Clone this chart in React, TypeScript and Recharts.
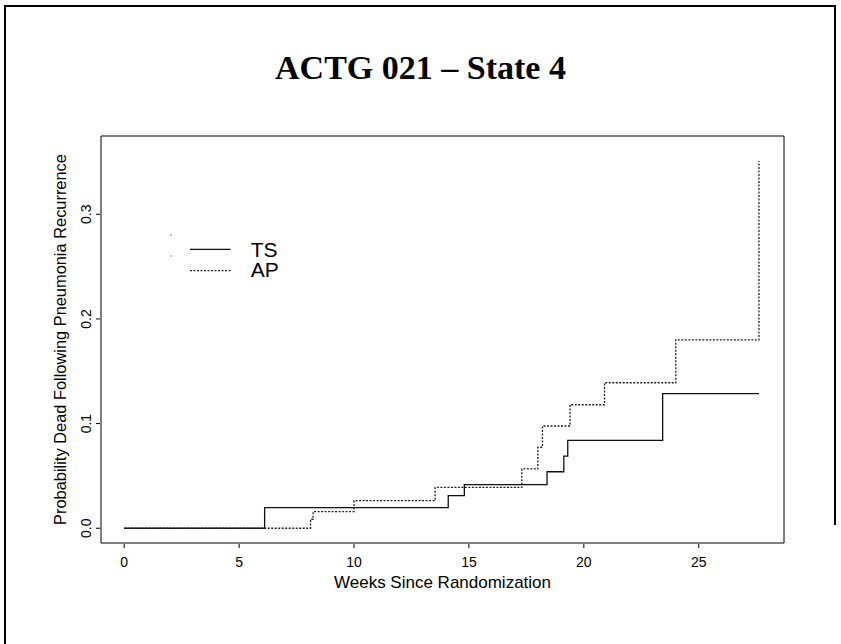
import React from 'react';
import { LineChart, Line, XAxis, YAxis, Legend } from 'recharts';

// ---- data ----
const tsWeeks = [0, 6.11, 14.1, 14.8, 18.4, 19.13, 19.3, 23.43, 27.62];
const tsProb = [0, 0.0197, 0.0312, 0.0417, 0.054, 0.069, 0.084, 0.1286, 0.1286];
const apWeeks = [0, 8.11, 8.22, 10.0, 13.53, 17.3, 18.0, 18.2, 19.4, 20.9, 24.0, 27.62];
const apProb = [0, 0.0086, 0.0159, 0.0264, 0.039, 0.0567, 0.0774, 0.0977, 0.118, 0.139, 0.18, 0.351];
const xTicks = [0, 5, 10, 15, 20, 25];
const yTicks = [0, 0.1, 0.2, 0.3];
const yTickLabels = ['0.0', '0.1', '0.2', '0.3'];
const seriesNames = ['TS', 'AP'];
const title = 'ACTG 021 – State 4';
const xTitle = 'Weeks Since Randomization';
const yTitle = 'Probability Dead Following Pneumonia Recurrence';

// ---- layout / style ----
const xDomain: [number, number] = [-1.01, 28.71];
const yDomain: [number, number] = [-0.0141, 0.3748];
const SANS = '"Liberation Sans", Arial, Helvetica, sans-serif';
const SERIF = '"Liberation Serif", "Times New Roman", Times, serif';
const lineStyles: Record<string, { dash?: string; width: number; color: string }> = {
  TS: { width: 1.3, color: '#111' },
  AP: { dash: '2 1.5', width: 1.3, color: '#222' },
};

const tsData = tsWeeks.map((t, i) => ({ t, v: tsProb[i] }));
const apData = apWeeks.map((t, i) => ({ t, v: apProb[i] }));

const XTick = (props: any) => {
  const { x, y, payload } = props;
  return (
    <g>
      <line x1={x} x2={x} y1={y + 1} y2={y + 5} stroke="#000" strokeWidth={1} />
      <text x={x} y={y + 24} textAnchor="middle" fontSize={14} fontFamily={SANS} fill="#000">
        {payload.value}
      </text>
    </g>
  );
};

const YTick = (props: any) => {
  const { x, y, payload } = props;
  const idx = yTicks.indexOf(payload.value);
  const label = idx >= 0 ? yTickLabels[idx] : String(payload.value);
  return (
    <g>
      <line x1={x - 5} x2={x - 1} y1={y} y2={y} stroke="#000" strokeWidth={1} />
      <text
        transform={`translate(${x - 10.5},${y}) rotate(-90)`}
        textAnchor="middle"
        fontSize={14}
        fontFamily={SANS}
        fill="#000"
      >
        {label}
      </text>
    </g>
  );
};

const XTitle = (p: any) => {
  const vb = p.viewBox || {};
  return (
    <text x={vb.x + vb.width / 2} y={vb.y + 45} textAnchor="middle" fontSize={17} fontFamily={SANS} fill="#000">
      {xTitle}
    </text>
  );
};

const YTitle = (p: any) => {
  const vb = p.viewBox || {};
  const bx = vb.x + vb.width - 35;
  const cy = vb.y + vb.height / 2;
  return (
    <text
      transform={`translate(${bx},${cy}) rotate(-90)`}
      textAnchor="middle"
      fontSize={16.4}
      fontFamily={SANS}
      fill="#000"
    >
      {yTitle}
    </text>
  );
};

const LegendContent = (props: any) => {
  const raw = (props.payload || []) as any[];
  const items = seriesNames
    .map((n) => raw.find((it: any) => String(it.value) === n))
    .filter(Boolean) as any[];
  return (
    <svg width={140} height={60} style={{ display: 'block', overflow: 'visible' }}>
      {items.map((it: any, i: number) => {
        const name = String(it.value);
        const st = lineStyles[name] || { width: 1, color: '#000' };
        return (
          <g key={name}>
            <circle cx={6} cy={7 + i * 21} r={0.8} fill="#666" />
            <line
              x1={25}
              x2={65.5}
              y1={21.3 + i * 21.4}
              y2={21.3 + i * 21.4}
              stroke={st.color}
              strokeWidth={st.width}
              strokeDasharray={st.dash}
            />
            <text x={85.7} y={28.7 + i * 20.3} fontSize={21} fontFamily={SANS} fill="#000">
              {name}
            </text>
          </g>
        );
      })}
    </svg>
  );
};

export default function App() {
  return (
    <div
      style={{
        position: 'absolute',
        left: 0,
        top: 0,
        width: 841,
        height: 644,
        overflow: 'hidden',
        background: '#fff',
      }}
    >
      {/* page frame */}
      <div
        style={{
          position: 'absolute',
          left: 4,
          top: 5,
          width: 830,
          height: 700,
          borderTop: '2px solid #000',
          borderLeft: '2px solid #000',
          boxSizing: 'border-box',
        }}
      />
      <div
        style={{
          position: 'absolute',
          left: 834,
          top: 5,
          width: 2,
          height: 520,
          background: '#000',
        }}
      />
      <div
        style={{
          position: 'absolute',
          left: 0,
          top: 51.4,
          width: 841,
          textAlign: 'center',
          fontFamily: SERIF,
          fontWeight: 'bold',
          fontSize: 34,
          lineHeight: '34px',
          color: '#000',
          whiteSpace: 'nowrap',
        }}
      >
        {title}
      </div>
      <div style={{ position: 'absolute', left: 0, top: 0 }}>
        <LineChart width={841} height={644} margin={{ top: 135, right: 56, bottom: 100, left: 100 }}>
          <XAxis
            xAxisId="b"
            dataKey="t"
            type="number"
            domain={xDomain}
            allowDataOverflow
            ticks={xTicks}
            interval={0}
            height={1}
            tickSize={0}
            tickMargin={0}
            tickLine={false}
            axisLine={{ stroke: '#000', strokeWidth: 1 }}
            tick={<XTick />}
            label={{ content: <XTitle /> } as any}
          />
          <XAxis
            xAxisId="top"
            orientation="top"
            type="number"
            domain={xDomain}
            allowDataOverflow
            ticks={xTicks}
            height={1}
            tick={false}
            tickLine={false}
            axisLine={{ stroke: '#000', strokeWidth: 1 }}
          />
          <YAxis
            yAxisId="l"
            type="number"
            domain={yDomain}
            allowDataOverflow
            ticks={yTicks}
            interval={0}
            width={1}
            tickSize={0}
            tickMargin={0}
            tickLine={false}
            axisLine={{ stroke: '#000', strokeWidth: 1 }}
            tick={<YTick />}
            label={{ content: <YTitle /> } as any}
          />
          <YAxis
            yAxisId="right"
            orientation="right"
            type="number"
            domain={yDomain}
            allowDataOverflow
            ticks={yTicks}
            width={1}
            tick={false}
            tickLine={false}
            axisLine={{ stroke: '#000', strokeWidth: 1 }}
          />
          <Legend
            layout="vertical"
            align="center"
            verticalAlign="middle"
            content={<LegendContent />}
            wrapperStyle={{ position: 'absolute', left: 165, top: 228, width: 140, height: 60 }}
          />
          <Line
            xAxisId="b"
            yAxisId="l"
            data={tsData}
            dataKey="v"
            name={seriesNames[0]}
            type="stepAfter"
            stroke={lineStyles.TS.color}
            strokeWidth={lineStyles.TS.width}
            dot={false}
            activeDot={false}
            isAnimationActive={false}
          />
          <Line
            xAxisId="b"
            yAxisId="l"
            data={apData}
            dataKey="v"
            name={seriesNames[1]}
            type="stepAfter"
            stroke={lineStyles.AP.color}
            strokeWidth={lineStyles.AP.width}
            strokeDasharray={lineStyles.AP.dash}
            dot={false}
            activeDot={false}
            isAnimationActive={false}
          />
        </LineChart>
      </div>
    </div>
  );
}
